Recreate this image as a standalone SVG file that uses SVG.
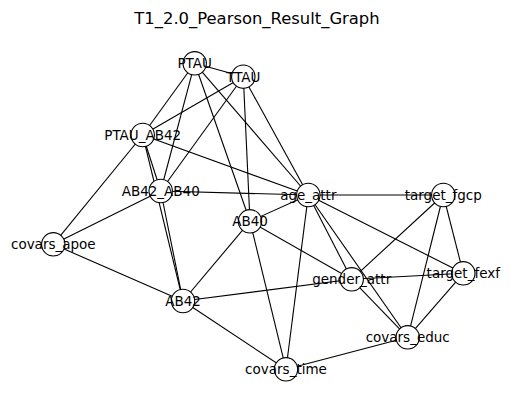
<svg xmlns="http://www.w3.org/2000/svg" width="515" height="411" viewBox="0 0 515 411">
<style>
.e{stroke:#000;stroke-width:1.1;fill:none}
.n circle{fill:#fff;stroke:#000;stroke-width:1.1}
.n text{font-family:"DejaVu Sans",sans-serif;font-size:13.5px;text-anchor:middle;fill:#000}
.t{font-family:"DejaVu Sans",sans-serif;font-size:16.4px;text-anchor:middle;fill:#000}
</style>
<rect width="515" height="411" fill="#fff"/>
<text class="t" x="257" y="24">T1_2.0_Pearson_Result_Graph</text>
<g id="edges">
<line class="e" x1="194.7" y1="63.3" x2="243.3" y2="76.7"/>
<line class="e" x1="194.7" y1="63.3" x2="142.7" y2="135"/>
<line class="e" x1="194.7" y1="63.3" x2="160.7" y2="191"/>
<line class="e" x1="194.7" y1="63.3" x2="250" y2="221.3"/>
<line class="e" x1="194.7" y1="63.3" x2="308.3" y2="195"/>
<line class="e" x1="243.3" y1="76.7" x2="142.7" y2="135"/>
<line class="e" x1="243.3" y1="76.7" x2="160.7" y2="191"/>
<line class="e" x1="243.3" y1="76.7" x2="250" y2="221.3"/>
<line class="e" x1="243.3" y1="76.7" x2="308.3" y2="195"/>
<line class="e" x1="142.7" y1="135" x2="53.3" y2="244.3"/>
<line class="e" x1="142.7" y1="135" x2="308.3" y2="195"/>
<line class="e" x1="142.7" y1="135" x2="160.7" y2="191"/>
<line class="e" x1="142.7" y1="135" x2="183" y2="301"/>
<line class="e" x1="160.7" y1="191" x2="308.3" y2="195"/>
<line class="e" x1="160.7" y1="191" x2="53.3" y2="244.3"/>
<line class="e" x1="160.7" y1="191" x2="183" y2="301"/>
<line class="e" x1="308.3" y1="195" x2="443.3" y2="195"/>
<line class="e" x1="308.3" y1="195" x2="250" y2="221.3"/>
<line class="e" x1="308.3" y1="195" x2="286" y2="369.3"/>
<line class="e" x1="308.3" y1="195" x2="351.7" y2="279.3"/>
<line class="e" x1="308.3" y1="195" x2="407.7" y2="337.3"/>
<line class="e" x1="308.3" y1="195" x2="463.3" y2="273.3"/>
<line class="e" x1="250" y1="221.3" x2="351.7" y2="279.3"/>
<line class="e" x1="250" y1="221.3" x2="286" y2="369.3"/>
<line class="e" x1="250" y1="221.3" x2="183" y2="301"/>
<line class="e" x1="443.3" y1="195" x2="351.7" y2="279.3"/>
<line class="e" x1="443.3" y1="195" x2="407.7" y2="337.3"/>
<line class="e" x1="443.3" y1="195" x2="463.3" y2="273.3"/>
<line class="e" x1="351.7" y1="279.3" x2="463.3" y2="273.3"/>
<line class="e" x1="351.7" y1="279.3" x2="407.7" y2="337.3"/>
<line class="e" x1="351.7" y1="279.3" x2="183" y2="301"/>
<line class="e" x1="463.3" y1="273.3" x2="407.7" y2="337.3"/>
<line class="e" x1="407.7" y1="337.3" x2="286" y2="369.3"/>
<line class="e" x1="183" y1="301" x2="286" y2="369.3"/>
<line class="e" x1="183" y1="301" x2="53.3" y2="244.3"/>
</g>
<g id="PTAU" class="n"><circle cx="194.7" cy="63.3" r="11.7"/><text x="194.7" y="68.3">PTAU</text></g>
<g id="TTAU" class="n"><circle cx="243.3" cy="76.7" r="11.7"/><text x="243.3" y="81.7">TTAU</text></g>
<g id="PTAU_AB42" class="n"><circle cx="142.7" cy="135" r="11.7"/><text x="142.7" y="140">PTAU_AB42</text></g>
<g id="AB42_AB40" class="n"><circle cx="160.7" cy="191" r="11.7"/><text x="160.7" y="196">AB42_AB40</text></g>
<g id="age_attr" class="n"><circle cx="308.3" cy="195" r="11.7"/><text x="308.3" y="200">age_attr</text></g>
<g id="target_fgcp" class="n"><circle cx="443.3" cy="195" r="11.7"/><text x="443.3" y="200">target_fgcp</text></g>
<g id="AB40" class="n"><circle cx="250" cy="221.3" r="11.7"/><text x="250" y="226.3">AB40</text></g>
<g id="covars_apoe" class="n"><circle cx="53.3" cy="244.3" r="11.7"/><text x="53.3" y="249.3">covars_apoe</text></g>
<g id="gender_attr" class="n"><circle cx="351.7" cy="279.3" r="11.7"/><text x="351.7" y="284.3">gender_attr</text></g>
<g id="target_fexf" class="n"><circle cx="463.3" cy="273.3" r="11.7"/><text x="463.3" y="278.3">target_fexf</text></g>
<g id="AB42" class="n"><circle cx="183" cy="301" r="11.7"/><text x="183" y="306">AB42</text></g>
<g id="covars_educ" class="n"><circle cx="407.7" cy="337.3" r="11.7"/><text x="407.7" y="342.3">covars_educ</text></g>
<g id="covars_time" class="n"><circle cx="286" cy="369.3" r="11.7"/><text x="286" y="374.3">covars_time</text></g>
</svg>
